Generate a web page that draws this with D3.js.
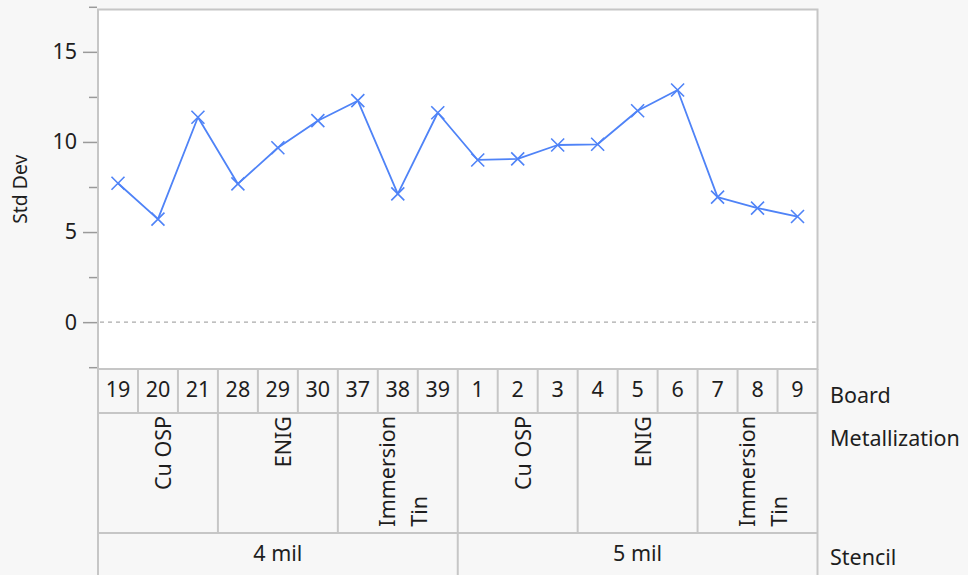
<!DOCTYPE html>
<html>
<head>
<meta charset="utf-8">
<script src="https://cdn.jsdelivr.net/npm/d3@7/dist/d3.min.js"></script>
<style>
  html, body { margin: 0; padding: 0; background: #f7f7f7; }
  svg { display: block; }
  text { font-family: "Segoe UI", "Noto Sans", "Open Sans", sans-serif; fill: #1e1e1e; }
</style>
</head>
<body>
<svg id="chart" width="968" height="575"></svg>
<script>
// ---- data ----
const stencils = ["4 mil", "5 mil"];
const metallizations = ["Cu OSP", "ENIG", "Immersion Tin"];
const boards = ["19","20","21","28","29","30","37","38","39","1","2","3","4","5","6","7","8","9"];
const stdDev = [7.71, 5.72, 11.37, 7.67, 9.68, 11.18, 12.29, 7.12, 11.62,
                9.00, 9.06, 9.83, 9.87, 11.73, 12.88, 6.94, 6.33, 5.86];
const majorTicks = [0, 5, 10, 15];
const minorTicks = [-2.5, 2.5, 7.5, 12.5, 17.5];
const yTitle = "Std Dev";
const levelNames = ["Board", "Metallization", "Stencil"];

// ---- layout ----
const W = 968, H = 575;
const L = 98, R = 817.5, T = 9.5, B = 369;
const row1 = 413, row2 = 533, row3 = 580;
const FS = 21.5;
const gridColor = "#c6c6c6";
const lineColor = "#4f83f7";

const svg = d3.select("#chart");

const x = d3.scaleBand().domain(d3.range(boards.length)).range([L, R]).paddingInner(0).paddingOuter(0);
const y = d3.scaleLinear().domain([-2.6, 17.35]).range([B, T]);

// plot background
svg.append("rect").attr("x", L).attr("y", T).attr("width", R - L).attr("height", B - T).attr("fill", "#ffffff");

// zero reference line
svg.append("line")
  .attr("x1", L + 2).attr("x2", R - 2)
  .attr("y1", y(0)).attr("y2", y(0))
  .attr("stroke", "#aaaaaa").attr("stroke-width", 1.3)
  .attr("stroke-dasharray", "4,4");

// y axis ticks
const majorAxis = d3.axisLeft(y).tickValues(majorTicks).tickSize(14).tickPadding(6).tickFormat(d3.format("d"));
const gMaj = svg.append("g").attr("transform", `translate(${L - 1},0)`).call(majorAxis);
gMaj.select(".domain").remove();
gMaj.selectAll("line").attr("stroke", "#9a9a9a").attr("stroke-width", 1.5);
gMaj.selectAll("text").attr("font-size", FS).attr("fill", "#1e1e1e").attr("font-family", null);

const minorAxis = d3.axisLeft(y).tickValues(minorTicks).tickSize(8).tickFormat("");
const gMin = svg.append("g").attr("transform", `translate(${L - 1},0)`).call(minorAxis);
gMin.select(".domain").remove();
gMin.selectAll("line").attr("stroke", "#9a9a9a").attr("stroke-width", 1.5);

// y title
svg.append("text")
  .attr("transform", `translate(27, ${(T + B) / 2}) rotate(-90)`)
  .attr("text-anchor", "middle")
  .attr("font-size", FS * 0.9)
  .text(yTitle);

// line and markers
const cx = i => x(i) + x.bandwidth() / 2;
const line = d3.line().x((d, i) => cx(i)).y(d => y(d));
svg.append("path").datum(stdDev)
  .attr("d", line).attr("fill", "none")
  .attr("stroke", lineColor).attr("stroke-width", 1.8).attr("stroke-linejoin", "round");

const m = 6.5;
svg.append("g").selectAll("path").data(stdDev).join("path")
  .attr("d", (d, i) => {
    const px = cx(i), py = y(d);
    return `M${px - m},${py - m}L${px + m},${py + m}M${px - m},${py + m}L${px + m},${py - m}`;
  })
  .attr("stroke", lineColor).attr("stroke-width", 1.6).attr("fill", "none");

// ---- bottom hierarchical axis ----
const g = svg.append("g");
const hl = (yy) => g.append("line").attr("x1", L).attr("x2", R).attr("y1", yy).attr("y2", yy)
  .attr("stroke", gridColor).attr("stroke-width", 2);
hl(row1); hl(row2);

// board row
boards.forEach((b, i) => {
  if (i > 0) {
    g.append("line").attr("x1", x(i)).attr("x2", x(i)).attr("y1", B).attr("y2", row1)
      .attr("stroke", gridColor).attr("stroke-width", 2);
  }
  g.append("text").attr("x", cx(i)).attr("y", 397).attr("text-anchor", "middle")
    .attr("font-size", FS).text(b);
});

// metallization row
const nPerMet = 3;
const nMetGroups = boards.length / nPerMet;
for (let k = 0; k < nMetGroups; k++) {
  const x0 = x(k * nPerMet), x1 = x(k * nPerMet + nPerMet - 1) + x.bandwidth();
  if (k > 0) {
    g.append("line").attr("x1", x0).attr("x2", x0).attr("y1", row1).attr("y2", row2)
      .attr("stroke", gridColor).attr("stroke-width", 2);
  }
  const label = metallizations[k % metallizations.length];
  const mid = (x0 + x1) / 2;
  const topY = row1 + 3;
  const avail = row2 - row1 - 8;
  // measure & wrap
  const probe = g.append("text").attr("font-size", FS).text(label);
  let lines = [label];
  if (probe.node().getComputedTextLength() > avail) {
    const words = label.split(" ");
    lines = [];
    let cur = "";
    words.forEach(w => {
      const test = cur ? cur + " " + w : w;
      probe.text(test);
      if (probe.node().getComputedTextLength() > avail && cur) { lines.push(cur); cur = w; }
      else cur = test;
    });
    if (cur) lines.push(cur);
  }
  const lens = lines.map(t => { probe.text(t); return probe.node().getComputedTextLength(); });
  probe.remove();
  const maxLen = d3.max(lens);
  const lineGap = 32;
  const startY = topY + maxLen;
  lines.forEach((t, j) => {
    const bx = mid + 13.5 + (j - (lines.length - 1) / 2) * lineGap;
    g.append("text")
      .attr("transform", `translate(${bx}, ${startY}) rotate(-90)`)
      .attr("text-anchor", "start")
      .attr("font-size", FS).text(t);
  });
}

// stencil row
const nPerSt = boards.length / stencils.length;
stencils.forEach((s, k) => {
  const x0 = x(k * nPerSt), x1 = x(k * nPerSt + nPerSt - 1) + x.bandwidth();
  if (k > 0) {
    g.append("line").attr("x1", x0).attr("x2", x0).attr("y1", row2).attr("y2", row3)
      .attr("stroke", gridColor).attr("stroke-width", 2);
  }
  g.append("text").attr("x", (x0 + x1) / 2).attr("y", 561).attr("text-anchor", "middle")
    .attr("font-size", FS).text(s);
});

// outer frame lines
svg.append("rect").attr("x", L).attr("y", T).attr("width", R - L).attr("height", B - T)
  .attr("fill", "none").attr("stroke", gridColor).attr("stroke-width", 2);
svg.append("line").attr("x1", L).attr("x2", L).attr("y1", B).attr("y2", row3)
  .attr("stroke", gridColor).attr("stroke-width", 2);
svg.append("line").attr("x1", R).attr("x2", R).attr("y1", B).attr("y2", row3)
  .attr("stroke", gridColor).attr("stroke-width", 2);

// level names on the right
const nameY = [403, 446, 565];
levelNames.forEach((n, i) => {
  svg.append("text").attr("x", 830).attr("y", nameY[i]).attr("font-size", FS).text(n);
});
</script>
</body>
</html>
